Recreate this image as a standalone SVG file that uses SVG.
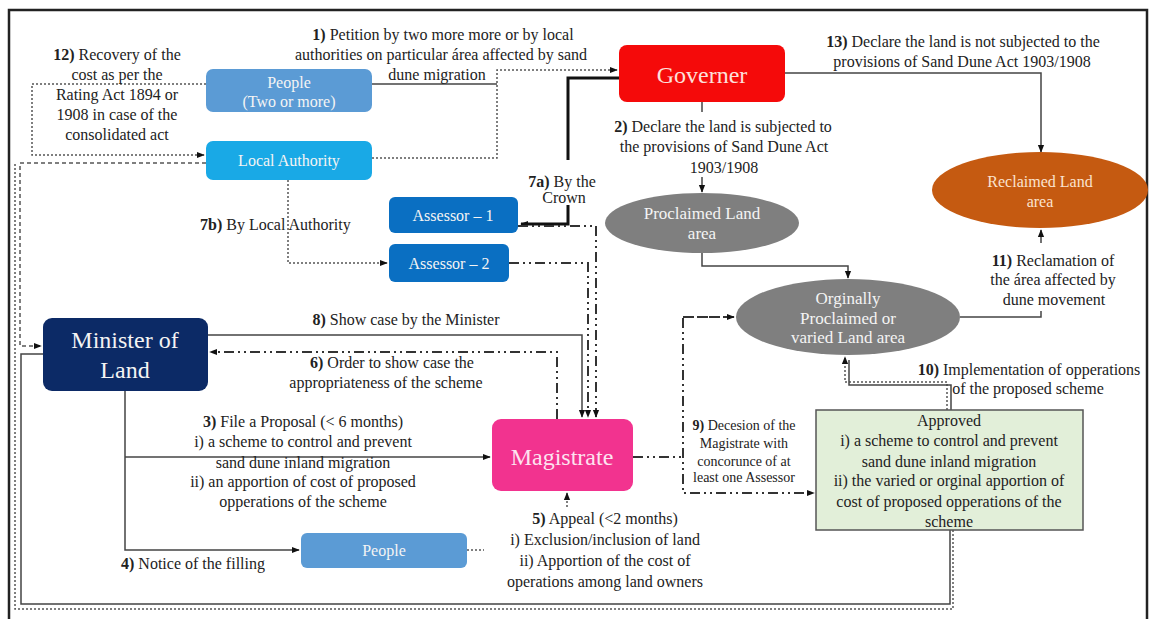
<svg xmlns="http://www.w3.org/2000/svg" width="1153" height="619" viewBox="0 0 1153 619">
<defs>
<marker id="a" viewBox="0 0 10 10" refX="9" refY="5" markerWidth="8" markerHeight="8" orient="auto" markerUnits="userSpaceOnUse"><path d="M0,1 L10,5 L0,9z" fill="#111"/></marker>
</defs>
<style>
.lbl{font-family:"Liberation Serif","Times New Roman",serif;font-size:16px;fill:#222;text-anchor:middle}
.sm{font-size:14px}
.n{font-family:"Liberation Serif","Times New Roman",serif;font-size:16px;fill:#f4f4f4;text-anchor:middle}
.big{font-size:24px}
.s{fill:none;stroke:#444;stroke-width:1.5}
.t{fill:none;stroke:#111;stroke-width:3}
.d{fill:none;stroke:#555;stroke-width:1.5;stroke-dasharray:2 2}
.dd{fill:none;stroke:#555;stroke-width:1.5;stroke-dasharray:4 3}
.dc{fill:none;stroke:#333;stroke-width:2;stroke-dasharray:10 4 2 4 2 4}
</style>
<rect x="0" y="0" width="1153" height="619" fill="#fff"/>
<rect x="9" y="10" width="1138" height="612" fill="none" stroke="#222" stroke-width="2.5"/>

<g id="connectors">
<path class="s" d="M372,84 H497"/>
<path class="d" d="M372,158 H497 V70 H617" marker-end="url(#a)"/>
<path class="t" d="M619,78 H568 V160"/>
<path class="t" d="M568,205 V224 H521" marker-end="url(#a)"/>
<path class="s" d="M702,102 V112"/>
<path class="s" d="M702,177 V192" marker-end="url(#a)"/>
<path class="s" d="M785,73 H1041 V152" marker-end="url(#a)"/>
<path class="s" d="M702,253 V266 H848 V278" marker-end="url(#a)"/>
<path class="s" d="M960,317 H1041 V311"/>
<path class="s" d="M1041,243 V230" marker-end="url(#a)"/>
<path class="d" d="M947,410 V382 H845 V357" marker-end="url(#a)"/>
<path class="s" d="M951,410 V385 H849 V360"/>
<path class="dc" d="M633,457 H683"/>
<path class="dc" d="M734,317 H683 V493 H814" marker-end="url(#a)"/>
<path class="dc" d="M683,317 H734" marker-end="url(#a)"/>
<path class="s" d="M208,335 H582 V417" marker-end="url(#a)"/>
<path class="dc" d="M557,419 V352 H210" marker-end="url(#a)"/>
<path class="dc" d="M518,226 H596 V417" marker-end="url(#a)"/>
<path class="dc" d="M509,263 H588 V417" marker-end="url(#a)"/>
<path class="s" d="M125,391 V550 H299" marker-end="url(#a)"/>
<path class="s" d="M125,457 H490" marker-end="url(#a)"/>
<path class="d" d="M567,507 V493" marker-end="url(#a)"/>
<path class="d" d="M288,180 V263 H387" marker-end="url(#a)"/>
<path class="d" d="M206,84 H32 V155 H204" marker-end="url(#a)"/>
<path class="dd" d="M206,163 H20 V346 H41" marker-end="url(#a)"/>
<path class="s" d="M43,354 H21 V604 H950 V530"/>
<path class="d" d="M953,530 V609 H15 V163"/>
<path class="d" d="M467,550 H484"/>
</g>

<g id="people-top"><rect x="206" y="69" width="166" height="43" rx="7" fill="#5b9bd5"/><text class="n" x="289" y="88">People</text><text class="n" x="289" y="107">(Two or more)</text></g>
<g id="local-authority"><rect x="206" y="141" width="166" height="39" rx="7" fill="#19a9e6"/><text class="n" x="289" y="166">Local Authority</text></g>
<g id="governer"><rect x="619" y="45" width="166" height="57" rx="8" fill="#f50a0a"/><text class="n big" x="702" y="83" fill="#fde0dc" style="fill:#fde0dc">Governer</text></g>
<g id="assessor-1"><rect x="389" y="197" width="129" height="36" rx="6" fill="#0a6fc2"/><text class="n" x="453" y="221">Assessor – 1</text></g>
<g id="assessor-2"><rect x="389" y="244" width="120" height="38" rx="6" fill="#0a6fc2"/><text class="n" x="449" y="269">Assessor – 2</text></g>
<g id="proclaimed"><ellipse cx="702" cy="223" rx="97" ry="30" fill="#7f7f7f"/><text class="n" x="702" y="219" style="font-size:17px">Proclaimed Land</text><text class="n" x="702" y="239" style="font-size:17px">area</text></g>
<g id="orginally"><ellipse cx="848" cy="317" rx="112" ry="38" fill="#7f7f7f"/><text class="n" x="848" y="304" style="font-size:17px">Orginally</text><text class="n" x="848" y="324" style="font-size:17px">Proclaimed or</text><text class="n" x="848" y="343" style="font-size:17px">varied Land area</text></g>
<g id="reclaimed"><ellipse cx="1040" cy="190" rx="108" ry="38" fill="#c55a11"/><text class="n" x="1040" y="187" style="fill:#fbe3cf">Reclaimed Land</text><text class="n" x="1040" y="207" style="fill:#fbe3cf">area</text></g>
<g id="minister"><rect x="43" y="318" width="165" height="73" rx="9" fill="#0c2a66"/><text class="n big" x="125" y="348">Minister of</text><text class="n big" x="125" y="378">Land</text></g>
<g id="magistrate"><rect x="492" y="419" width="141" height="72" rx="9" fill="#f2338f"/><text class="n big" x="562" y="465" style="fill:#fde3f0">Magistrate</text></g>
<g id="people-bottom"><rect x="301" y="533" width="166" height="35" rx="6" fill="#5b9bd5"/><text class="n" x="384" y="556">People</text></g>
<g id="approved"><rect x="816" y="410" width="267" height="120" fill="#e2efd9" stroke="#555" stroke-width="1.5"/>
<text class="lbl" x="949" y="426">Approved</text>
<text class="lbl" x="949" y="446">i) a scheme to control and prevent</text>
<text class="lbl" x="949" y="467">sand dune inland migration</text>
<text class="lbl" x="949" y="486">ii) the varied or orginal apportion of</text>
<text class="lbl" x="949" y="507">cost of proposed opperations of the</text>
<text class="lbl" x="949" y="527">scheme</text></g>

<g id="labels">
<text class="lbl" x="117" y="60"><tspan font-weight="bold">12)</tspan> Recovery of the</text>
<text class="lbl" x="117" y="80">cost as per the</text>
<text class="lbl" x="117" y="100">Rating Act 1894 or</text>
<text class="lbl" x="117" y="120">1908 in case of the</text>
<text class="lbl" x="117" y="140">consolidated act</text>
<text class="lbl" x="443" y="40"><tspan font-weight="bold">1)</tspan> Petition by two more more or by local</text>
<text class="lbl" x="441" y="60">authorities on particular área affected by sand</text>
<text class="lbl" x="437" y="80">dune migration</text>
<text class="lbl" x="963" y="47"><tspan font-weight="bold">13)</tspan> Declare the land is not subjected to the</text>
<text class="lbl" x="962" y="67">provisions of Sand Dune Act 1903/1908</text>
<text class="lbl" x="723" y="132"><tspan font-weight="bold">2)</tspan> Declare the land is subjected to</text>
<text class="lbl" x="724" y="152">the provisions of Sand Dune Act</text>
<text class="lbl" x="724" y="173">1903/1908</text>
<text class="lbl" x="562" y="187"><tspan font-weight="bold">7a)</tspan> By the</text>
<text class="lbl" x="564" y="203">Crown</text>
<text class="lbl" x="200" y="230" style="text-anchor:start"><tspan font-weight="bold">7b)</tspan> By Local Authority</text>
<text class="lbl" x="406" y="325"><tspan font-weight="bold">8)</tspan> Show case by the Minister</text>
<text class="lbl" x="392" y="368"><tspan font-weight="bold">6)</tspan> Order to show case the</text>
<text class="lbl" x="386" y="388">appropriateness of the scheme</text>
<text class="lbl" x="303" y="427"><tspan font-weight="bold">3)</tspan> File a Proposal (&lt; 6 months)</text>
<text class="lbl" x="303" y="447">i) a scheme to control and prevent</text>
<text class="lbl" x="303" y="468">sand dune inland migration</text>
<text class="lbl" x="303" y="487">ii) an apportion of cost of proposed</text>
<text class="lbl" x="303" y="507">opperations of the scheme</text>
<text class="lbl" x="193" y="569"><tspan font-weight="bold">4)</tspan> Notice of the filling</text>
<text class="lbl" x="605" y="524"><tspan font-weight="bold">5)</tspan> Appeal (&lt;2 months)</text>
<text class="lbl" x="605" y="545">i) Exclusion/inclusion of land</text>
<text class="lbl" x="605" y="566">ii) Apportion of the cost of</text>
<text class="lbl" x="605" y="587">operations among land owners</text>
<text class="lbl sm" x="744" y="430"><tspan font-weight="bold">9)</tspan> Decesion of the</text>
<text class="lbl sm" x="744" y="448">Magistrate with</text>
<text class="lbl sm" x="744" y="466">concorunce of at</text>
<text class="lbl sm" x="744" y="482">least one Assessor</text>
<text class="lbl" x="1029" y="375"><tspan font-weight="bold">10)</tspan> Implementation of opperations</text>
<text class="lbl" x="1028" y="394">of the proposed scheme</text>
<text class="lbl" x="1053" y="266"><tspan font-weight="bold">11)</tspan> Reclamation of</text>
<text class="lbl" x="1053" y="285">the área affected by</text>
<text class="lbl" x="1054" y="305">dune movement</text>
</g>
</svg>
